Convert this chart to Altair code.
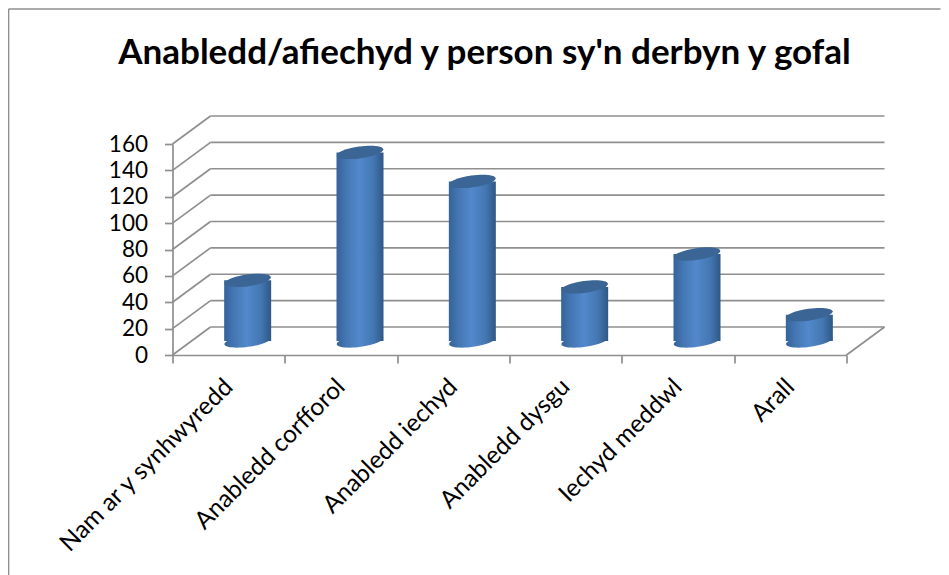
import altair as alt
import pandas as pd

categories = ["Nam ar y synhwyredd", "Anabledd corfforol", "Anabledd iechyd",
              "Anabledd dysgu", "Iechyd meddwl", "Arall"]
values = [46, 143, 121, 41, 66, 20]
y_ticks = [0, 20, 40, 60, 80, 100, 120, 140, 160]
title_text = "Anabledd/afiechyd y person sy'n derbyn y gofal"

W, H = 674, 211
DEPTH_X, DEPTH_Y = 38, 28
DEPTH_V = DEPTH_Y * 160 / H
GREY = "#8f8f8f"
FONT = "Lato"

df = pd.DataFrame({"cat": categories, "v": values, "zero": [0] * len(values)})
grid = pd.DataFrame({"v": y_ticks})
grid["back"] = grid["v"] + DEPTH_V
floor = pd.DataFrame({"v": [0], "back": [DEPTH_V], "label": [title_text]})

xs = alt.Scale(domain=categories, paddingInner=0, paddingOuter=0)
ys = alt.Scale(domain=[0, 160], nice=False)
X = alt.X("cat:N", scale=xs, axis=None, sort=categories)
Y = alt.Y("v:Q", scale=ys, axis=None)

body_grad = alt.Gradient(gradient="linear", x1=0, x2=1, y1=0, y2=0, stops=[
    alt.GradientStop(offset=0, color="#35639a"),
    alt.GradientStop(offset=0.2, color="#4476b2"),
    alt.GradientStop(offset=0.48, color="#5289cc"),
    alt.GradientStop(offset=0.78, color="#4477b2"),
    alt.GradientStop(offset=1, color="#2e5885"),
])
ELLIPSE = "M-1,0A1,0.25 0 1 1 1,0A1,0.25 0 1 1 -1,0Z"

line = dict(color=GREY, strokeWidth=1.7)
top_frame = alt.Chart(floor).mark_rule(**line).encode(
    x=alt.value(-164), x2=alt.value(768), y=alt.value(-135))
left_frame = alt.Chart(floor).mark_rule(**line).encode(
    x=alt.value(-164), y=alt.value(-135), y2=alt.value(440))
title_mark = alt.Chart(floor).mark_text(
    font=FONT, fontSize=35, fontWeight="bold", color="#000000", align="center", baseline="alphabetic"
).encode(x=alt.value(312), y=alt.value(-80), text="label:N")

back_grid = alt.Chart(grid).mark_rule(**line).encode(
    x=alt.value(DEPTH_X), x2=alt.value(W + DEPTH_X),
    y=alt.Y("back:Q", scale=ys, axis=None))
left_diag = alt.Chart(grid).mark_rule(**line).encode(
    x=alt.value(0), x2=alt.value(DEPTH_X),
    y=alt.Y("v:Q", scale=ys, axis=alt.Axis(
        values=y_ticks, grid=False, domainColor=GREY, domainWidth=1.7, tickColor=GREY,
        tickWidth=1.7, tickSize=8, labelPadding=17, labelFontSize=22.5, labelFont=FONT,
        labelColor="#000000", title=None)),
    y2="back:Q")
right_diag = alt.Chart(floor).mark_rule(**line).encode(
    x=alt.value(W), x2=alt.value(W + DEPTH_X),
    y=alt.Y("v:Q", scale=ys, axis=None), y2="back:Q")

base = alt.Chart(df)
bottom = base.mark_point(shape=ELLIPSE, filled=True, size=2209, angle=352, opacity=1,
                         color=body_grad, xOffset=19, yOffset=-14, strokeWidth=0).encode(
    x=X, y=alt.Y("zero:Q", scale=ys, axis=None))
bars = base.mark_bar(size=47, color=body_grad, xOffset=19, x2Offset=19, yOffset=-14, y2Offset=-14).encode(
    x=alt.X("cat:N", scale=xs, sort=categories, title=None, axis=alt.Axis(
        tickBand="extent", labelAngle=315, labelAlign="right", labelBaseline="middle",
        labelFont=FONT, labelFontSize=24.5, labelColor="#000000", labelPadding=20,
        domainColor=GREY, domainWidth=1.7, tickColor=GREY, tickWidth=1.7,
        tickSize=8, labelOverlap=False, labelLimit=400)),
    y=Y, y2=alt.Y2(datum=0))
tops = base.mark_point(shape=ELLIPSE, filled=True, size=2209, angle=352, opacity=1,
                       color="#3a6595", xOffset=19, yOffset=-14, strokeWidth=0).encode(x=X, y=Y)

chart = alt.layer(
    top_frame, left_frame, title_mark, back_grid, left_diag, right_diag, bottom, bars, tops
).resolve_axis(x="independent", y="independent").properties(
    width=W, height=H,
    autosize=alt.AutoSizeParams(type="none"),
    padding={"left": 164.5, "top": 136, "right": 94.5, "bottom": 220},
).configure_view(stroke=None)

chart.save("out.html", embed_options={"renderer": "svg", "actions": False})
